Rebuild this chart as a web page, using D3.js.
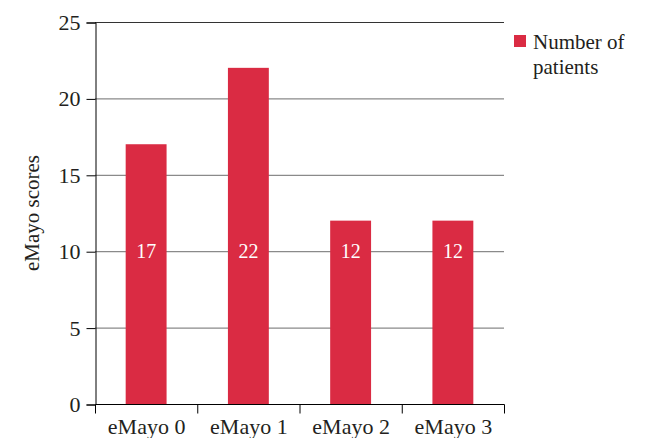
<html>
<style>
body { margin: 0; background: #fff; }
text { font-family: "Liberation Serif", "DejaVu Serif", serif; fill: #231f20; }
</style>
<script src="https://d3js.org/d3.v7.min.js"></script>
<body>
<svg id="main_vis" width="648" height="438"></svg>
<script>
// chart data
var categories = ["eMayo 0", "eMayo 1", "eMayo 2", "eMayo 3"];
var patients = [17, 22, 12, 12];
var yTicks = [0, 5, 10, 15, 20, 25];
var seriesName = ["Number of", "patients"];

var svg = d3.select("#main_vis");

var x = d3.scaleBand()
  .domain(categories)
  .range([95, 504])
  .paddingInner(0.6)
  .paddingOuter(0.3);

var y = d3.scaleLinear()
  .domain([0, 25])
  .range([404, 22]);

// gridlines
svg.append("g")
  .selectAll("line")
  .data(yTicks.slice(1))
  .enter().append("line")
  .attr("x1", 95)
  .attr("x2", 504)
  .attr("y1", function(d) { return y(d) + 0.5; })
  .attr("y2", function(d) { return y(d) + 0.5; })
  .attr("stroke", function(d) { return d == 25 ? "#333" : "#8a8a8a"; })
  .attr("stroke-width", 1.2);

// bars
svg.append("g")
  .selectAll("rect")
  .data(patients)
  .enter().append("rect")
  .attr("x", function(d, i) { return x(categories[i]); })
  .attr("width", x.bandwidth())
  .attr("y", function(d) { return y(d); })
  .attr("height", function(d) { return y(0) - y(d); })
  .attr("fill", "#da2b43");

// value labels (all sit at the 10 line)
svg.append("g")
  .selectAll("text")
  .data(patients)
  .enter().append("text")
  .attr("x", function(d, i) { return x(categories[i]) + x.bandwidth() / 2; })
  .attr("y", y(10) + 7)
  .attr("text-anchor", "middle")
  .attr("font-size", "20px")
  .style("fill", "#fff")
  .text(function(d) { return d; });

// y axis
var yAxis = svg.append("g")
  .attr("transform", "translate(95.5,0.5)")
  .call(d3.axisLeft(y).tickValues(yTicks).tickSize(9).tickPadding(6));
yAxis.selectAll("text").attr("font-size", "22px").attr("font-family", null);

// x axis with ticks between bands
var xEdge = d3.scaleLinear().domain([0, categories.length]).range([95, 504]);
var xAxis = svg.append("g")
  .attr("transform", "translate(0.5," + (y(0) + 0.5) + ")");
xAxis.append("line")
  .attr("x1", 95).attr("x2", 504)
  .attr("stroke", "#000");
xAxis.selectAll(".tk")
  .data(d3.range(categories.length + 1))
  .enter().append("line")
  .attr("class", "tk")
  .attr("x1", function(d) { return xEdge(d); })
  .attr("x2", function(d) { return xEdge(d); })
  .attr("y1", 0).attr("y2", 9)
  .attr("stroke", "#000");
xAxis.selectAll(".lbl")
  .data(categories)
  .enter().append("text")
  .attr("class", "lbl")
  .attr("x", function(d) { return x(d) + x.bandwidth() / 2; })
  .attr("y", 29)
  .attr("text-anchor", "middle")
  .attr("font-size", "22px")
  .text(function(d) { return d; });

// y axis title
svg.append("text")
  .attr("transform", "translate(39,213) rotate(-90)")
  .attr("text-anchor", "middle")
  .attr("font-size", "21px")
  .text("eMayo scores");

// legend
svg.append("rect")
  .attr("x", 514).attr("y", 35)
  .attr("width", 12).attr("height", 12)
  .attr("fill", "#da2b43");
svg.append("g")
  .selectAll("text")
  .data(seriesName)
  .enter().append("text")
  .attr("x", 533)
  .attr("y", function(d, i) { return 49 + i * 25; })
  .attr("font-size", "21px")
  .text(function(d) { return d; });
</script>
</body>
</html>
